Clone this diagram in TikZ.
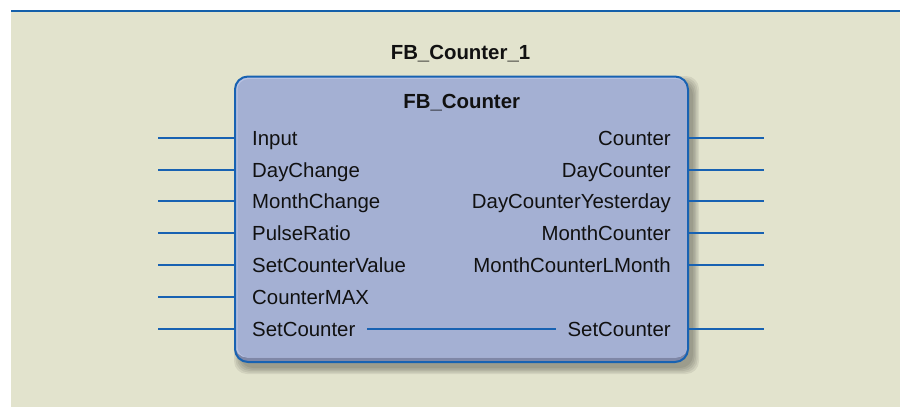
\documentclass[tikz,border=0pt]{standalone}
\usepackage{fontspec}
\setmainfont{Liberation Sans}
\definecolor{bg}{HTML}{E2E3CD}
\definecolor{boxfill}{HTML}{A4B0D3}
\definecolor{hilite}{HTML}{B9C2E2}
\definecolor{bevdark}{HTML}{7F87A7}
\definecolor{edge}{HTML}{1862B2}
\definecolor{topline}{HTML}{1560AA}
\definecolor{ink}{HTML}{111111}
\tikzset{
  wire/.style={draw=edge, line width=2pt},
  fbbox/.style={draw=edge, line width=2pt, rounded corners=13pt, outer sep=0pt,
    minimum width=453pt, minimum height=285.5pt, inner sep=0pt},
  lbl/.style={inner sep=0pt, text=ink, font=\fontsize{20.4}{24}\selectfont},
  ttl/.style={inner sep=0pt, text=ink, font=\fontsize{20.4}{24}\selectfont\bfseries},
}
\begin{document}
\begin{tikzpicture}[x=1pt,y=-1pt]
\useasboundingbox (0,0) rectangle (900,407);
\fill[white] (0,0) rectangle (900,407);
\fill[bg] (11,12) rectangle (900,407);
\draw[topline, line width=2.5pt] (11,11) -- (900,11);
% shadow
\foreach \s in {0,1.5,3,4.5,6}
  \fill[black, opacity=0.07, rounded corners=13] (240-\s,82-\s) rectangle (693+\s,368+\s);
% body with bevel
\begin{scope}
  \clip[rounded corners=13] (235,76.5) rectangle (688,362);
  \fill[bevdark] (235,76.5) rectangle (688,362);
  \fill[hilite, rounded corners=12] (235,76.5) rectangle (688,357.5);
  \fill[boxfill, rounded corners=11] (237.5,79) rectangle (687,357.5);
\end{scope}
\node[fbbox] (box) at (461.5,219.25) {};
% titles
\node[ttl, anchor=base] (inst) at (460.5,59.3) {FB\_Counter\_1};
\node[ttl, anchor=base] (type) at (461.7,108.7) {FB\_Counter};
% inputs
\foreach \i/\t/\yy in {1/Input/138,2/DayChange/170,3/MonthChange/201,4/PulseRatio/233,5/SetCounterValue/265,6/CounterMAX/297,7/SetCounter/329}{
  \coordinate (lin\i) at (158,\yy);
  \node[lbl, anchor=base west] (l\i) at (252,\yy+7.3) {\t};
  \draw[wire] (lin\i) -- (lin\i -| box.west);
}
% outputs
\foreach \i/\t/\yy in {1/Counter/138,2/DayCounter/170,3/DayCounterYesterday/201,4/MonthCounter/233,5/MonthCounterLMonth/265,7/SetCounter/329}{
  \coordinate (rout\i) at (764,\yy);
  \node[lbl, anchor=base east] (r\i) at (671,\yy+7.3) {\t};
  \draw[wire] (box.east |- rout\i) -- (rout\i);
}
% internal pass-through
\draw[wire] ([xshift=11.5pt]l7.east |- lin7) -- ([xshift=-11pt]r7.west |- lin7);
\end{tikzpicture}
\end{document}
